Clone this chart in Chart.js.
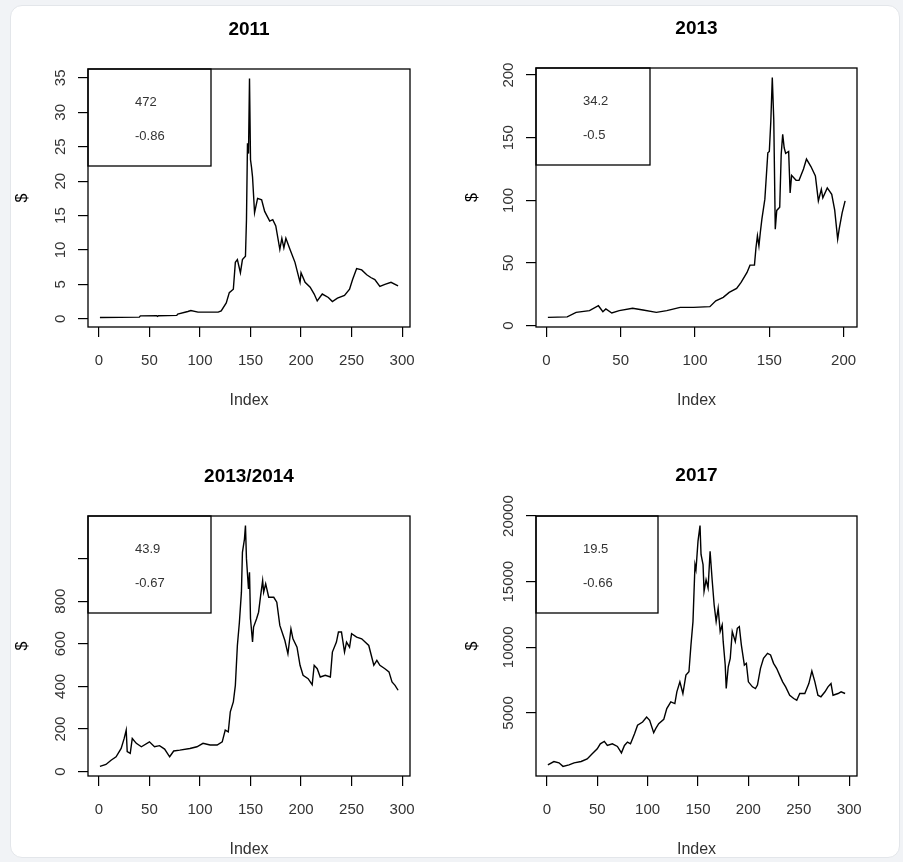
<!DOCTYPE html>
<html>
<head>
<meta charset="utf-8">
<script src="https://cdn.jsdelivr.net/npm/chart.js@4.4.1/dist/chart.umd.min.js"></script>
<style>
  html, body { margin: 0; padding: 0; background: #f1f3f6; }
  body { width: 903px; height: 862px; position: relative; overflow: hidden; }
  .card { position: absolute; left: 10px; top: 5px; width: 888px; height: 851px;
          background: #fff; border: 1px solid #e3e6ea; border-radius: 12px; }
  canvas { position: absolute; }
</style>
</head>
<body>
<div class="card"></div>
<canvas id="c2011" width="450" height="430" style="left:0;top:0"></canvas>
<canvas id="c2013" width="453" height="430" style="left:450px;top:0"></canvas>
<canvas id="c2014" width="450" height="432" style="left:0;top:430px"></canvas>
<canvas id="c2017" width="453" height="432" style="left:450px;top:430px"></canvas>
<script>
/* ── Données (index du jour, prix en $) ──────────────────────────────────── */
const idx2011 = [1,40,41,57,58,59,77,78,88,91,98,118,121,126,129,133,135,137,140,142,145,146,147,148,149,150,151,152,154,157,161,164,169,172,175,179,181,183,185,189,194,199,200,204,209,213,216,221,227,231,236,243,248,251,255,260,265,269,273,278,283,289,296];
const usd2011 = [0.2,0.25,0.43,0.45,0.35,0.45,0.5,0.68,1.06,1.2,0.97,0.97,1.15,2.3,3.8,4.3,8.2,8.6,6.7,8.6,9.1,14.4,25.5,24,34.9,23.1,22,20.6,15.4,17.5,17.3,15.6,14.2,14.4,13.5,10.1,11.7,10.3,11.7,10.1,8.2,5.3,6.7,5.3,4.6,3.6,2.6,3.6,3.1,2.5,3.0,3.4,4.3,5.7,7.3,7.1,6.4,6.0,5.7,4.7,5.0,5.3,4.8];

const idx2013 = [1,14,20,29,35,38,40,44,49,58,65,74,81,90,99,110,114,119,123,128,131,135,137,140,141,142,143,144,145,147,149,150,151,152,153,154,155,157,158,159,160,161,163,164,165,168,170,173,175,178,181,183,185,186,189,192,194,196,197,199,201];
const usd2013 = [6.6,7,10.6,12,15.9,11.1,13.3,10.1,12,13.9,12.5,10.6,12,14.6,14.6,15.2,19.9,22.6,26.6,29.8,34.5,42.5,48.3,48.3,62,71.7,63.7,75,85,101,138,139,163,198,164,77,92,94.6,136.8,152.7,142,137.5,139,106,120,116,116,125,133,127,119.5,99.6,108.9,102,110,104.8,92.2,69,77,90,99.6];

const idx2014 = [1,7,12,17,22,25,27,28,31,33,37,42,50,55,60,65,70,74,80,90,97,103,110,117,122,125,128,130,133,135,137,139,141,142,144,145,146,148,149,150,152,153,156,158,160,162,163,165,168,173,176,179,184,187,190,192,196,199,202,207,211,213,216,219,224,229,231,235,237,240,243,245,248,250,255,260,267,272,275,278,283,287,290,293,296];
const usd2014 = [25,34,54,70,109,156,195,94,86,156,133,117,140,117,122,106,70,97,101,109,117,133,125,125,140,195,187,281,327,405,592,701,842,1029,1091,1154,998,857,935,717,608,678,717,748,826,896,842,881,818,818,795,686,615,553,670,623,584,499,452,436,408,499,483,444,452,444,561,608,655,655,561,608,584,647,631,623,592,499,522,499,483,468,421,405,382];

const idx2017 = [1,7,12,16,22,27,34,40,45,50,53,57,60,65,70,74,77,80,83,87,90,95,99,102,106,108,111,116,119,123,127,129,132,135,138,141,143,145,147,148,150,152,153,155,156,158,160,162,164,166,168,170,172,174,175,177,178,180,182,184,187,189,191,193,196,198,200,204,207,209,212,215,219,222,225,228,231,234,237,241,245,248,251,256,260,263,266,269,272,276,279,282,284,289,292,296];
const usd2017 = [1046,1300,1200,930,1046,1200,1300,1500,1890,2270,2650,2830,2520,2650,2450,1960,2520,2780,2650,3420,4060,4310,4690,4440,3490,3800,4180,4510,5330,5840,5710,6610,7370,6480,7880,8140,10180,11960,16300,15920,18090,19270,17070,16300,14260,15150,14520,17320,15170,13240,11960,12980,11200,11710,10430,8650,6860,8520,9160,11200,10430,11450,11580,10180,8650,8780,7370,6990,6860,7120,8400,9160,9540,9420,8780,8400,7880,7370,6990,6350,6100,5970,6480,6480,7240,8190,7370,6350,6230,6610,6990,7240,6350,6480,6610,6480];

const xTicks300 = [0, 50, 100, 150, 200, 250, 300];
const xTicks200 = [0, 50, 100, 150, 200];
const yTicks2011 = [0, 5, 10, 15, 20, 25, 30, 35];
const yTicks2013 = [0, 50, 100, 150, 200];
const yTicks2014 = [0, 200, 400, 600, 800, 1000];
const yLabels2014 = ['0', '200', '400', '600', '800', ''];
const yTicks2017 = [5000, 10000, 15000, 20000];

const legendTop    = ['472', '34.2', '43.9', '19.5'];
const legendBottom = ['-0.86', '-0.5', '-0.67', '-0.66'];

const FONT = '"Liberation Sans", Arial, sans-serif';

/* ── Étendue "à la R" : +4 % de chaque côté ──────────────────────────────── */
function rRange(arr) {
  const lo = Math.min(...arr), hi = Math.max(...arr), pad = (hi - lo) * 0.04;
  return [lo - pad, hi + pad];
}

/* ── Cadre, boîte de légende et étiquettes Y tournées ─────────────────────── */
const rFrame = {
  id: 'rframe',
  afterDraw(chart, args, o) {
    const { ctx, chartArea: a, scales: { y } } = chart;
    ctx.save();
    ctx.strokeStyle = '#000';
    ctx.lineWidth = 1.3;
    ctx.strokeRect(a.left, a.top, a.right - a.left, a.bottom - a.top);
    ctx.strokeRect(a.left, a.top, o.legendW, 97);

    ctx.fillStyle = '#333';
    ctx.font = '13px ' + FONT;
    ctx.textAlign = 'left';
    ctx.textBaseline = 'middle';
    ctx.fillText(o.legend[0], a.left + 47, a.top + 33);
    ctx.fillText(o.legend[1], a.left + 47, a.top + 67);

    ctx.font = '15px ' + FONT;
    ctx.textAlign = 'center';
    y.ticks.forEach((t, i) => {
      const lab = o.yLabels[i];
      if (!lab) return;
      ctx.save();
      ctx.translate(a.left - 27, y.getPixelForValue(t.value));
      ctx.rotate(-Math.PI / 2);
      ctx.fillText(lab, 0, 0);
      ctx.restore();
    });
    ctx.restore();
  }
};

const panels = [
  { id: 'c2011', title: '2011', idx: idx2011, usd: usd2011, xTicks: xTicks300, yTicks: yTicks2011,
    yLabels: yTicks2011.map(String), legend: [legendTop[0], legendBottom[0]],
    area: { l: 88, t: 69, r: 410, b: 327 }, titleY: 29.5, legendW: 123 },
  { id: 'c2013', title: '2013', idx: idx2013, usd: usd2013, xTicks: xTicks200, yTicks: yTicks2013,
    yLabels: yTicks2013.map(String), legend: [legendTop[1], legendBottom[1]],
    area: { l: 86, t: 68, r: 407, b: 327 }, titleY: 28.7, legendW: 114 },
  { id: 'c2014', title: '2013/2014', idx: idx2014, usd: usd2014, xTicks: xTicks300, yTicks: yTicks2014,
    yLabels: yLabels2014, legend: [legendTop[2], legendBottom[2]],
    area: { l: 88, t: 86, r: 410, b: 346 }, titleY: 46.3, legendW: 123 },
  { id: 'c2017', title: '2017', idx: idx2017, usd: usd2017, xTicks: xTicks300, yTicks: yTicks2017,
    yLabels: yTicks2017.map(String), legend: [legendTop[3], legendBottom[3]],
    area: { l: 86, t: 86, r: 407, b: 346 }, titleY: 45.8, legendW: 122 },
];

function makeChart(p) {
  const cv = document.getElementById(p.id);
  const W = cv.width, H = cv.height, a = p.area;
  const lh = 19 * 1.2;
  const xr = rRange(p.idx), yr = rRange(p.usd);
  const titleTop = p.titleY - lh / 2;

  return new Chart(cv, {
    type: 'line',
    data: {
      datasets: [{
        data: p.idx.map((x, i) => ({ x, y: p.usd[i] })),
        borderColor: '#000',
        borderWidth: 1.4,
        pointRadius: 0,
        tension: 0,
        fill: false,
      }],
    },
    options: {
      responsive: false,
      animation: false,
      events: [],
      layout: { padding: { left: 0, top: 0, right: W - a.r, bottom: 0 } },
      plugins: {
        legend: { display: false },
        tooltip: { enabled: false },
        title: {
          display: true, text: p.title, fullSize: false, color: '#000',
          font: { family: FONT, size: 19, weight: 'bold' },
          padding: { top: titleTop, bottom: a.t - titleTop - lh },
        },
        rframe: { legend: p.legend, legendW: p.legendW, yLabels: p.yLabels },
      },
      scales: {
        x: {
          type: 'linear', min: xr[0], max: xr[1],
          afterFit: s => { s.height = H - a.b; },
          afterBuildTicks: s => { s.ticks = p.xTicks.map(v => ({ value: v })); },
          grid: { drawOnChartArea: false, drawTicks: true, tickLength: 10, color: '#000', lineWidth: 1.2 },
          border: { display: false },
          ticks: { padding: 15, color: '#333', font: { family: FONT, size: 15 },
                   maxRotation: 0, autoSkip: false, callback: v => String(v) },
          title: { display: true, text: 'Index', color: '#333', font: { family: FONT, size: 16 },
                   padding: { top: 0, bottom: H - 9.6 - (a.b + 74) } },
        },
        y: {
          type: 'linear', min: yr[0], max: yr[1],
          afterFit: s => { s.width = a.l; },
          afterBuildTicks: s => { s.ticks = p.yTicks.map(v => ({ value: v })); },
          grid: { drawOnChartArea: false, drawTicks: true, tickLength: 10, color: '#000', lineWidth: 1.2 },
          border: { display: false },
          ticks: { display: false },
          title: { display: true, text: '$', color: '#000', font: { family: FONT, size: 16 },
                   padding: { top: 13, bottom: 0 } },
        },
      },
    },
    plugins: [rFrame],
  });
}

panels.forEach(makeChart);
</script>
</body>
</html>
